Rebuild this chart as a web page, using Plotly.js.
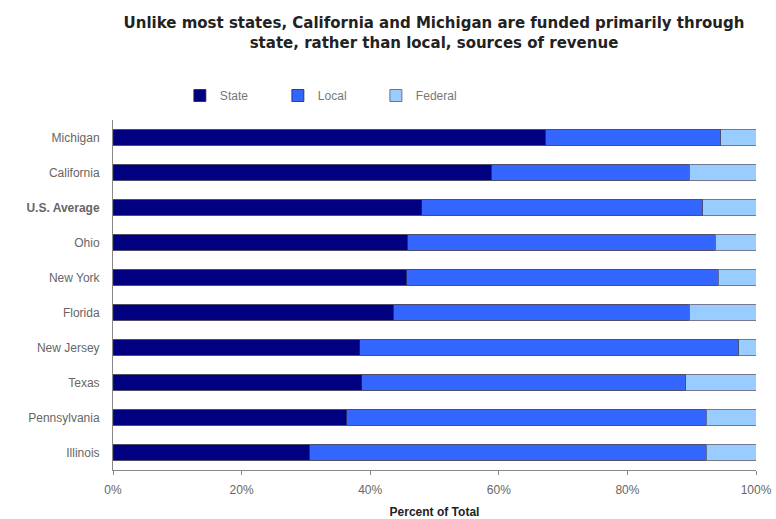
<!DOCTYPE html>
<html>
<head>
<meta charset="utf-8">
<script src="https://cdn.plot.ly/plotly-3.0.1.min.js"></script>
<style>html,body{margin:0;padding:0;background:#fff;}#chart{width:776px;height:519px;}</style>
</head>
<body>
<div id="chart"></div>
<script>
const states = ["Michigan","California","U.S. Average","Ohio","New York","Florida","New Jersey","Texas","Pennsylvania","Illinois"];
const stateShare = [67.2, 58.8, 48.0, 45.8, 45.6, 43.6, 38.4, 38.7, 36.3, 30.5];
const localShare = [27.3, 30.8, 43.7, 47.9, 48.5, 46.0, 58.9, 50.4, 56.0, 61.8];
const federalShare = [5.5, 10.4, 8.3, 6.3, 5.9, 10.4, 2.7, 10.9, 7.7, 7.7];
const tickLabels = ["Michigan","California","<b>U.S. Average</b>","Ohio","New York","Florida","New Jersey","Texas","Pennsylvania","Illinois"];
const xTickVals = [0,20,40,60,80,100];
const xTickText = ["0%","20%","40%","60%","80%","100%"];

const common = {type:'bar', orientation:'h', y: states, width:0.45};
const traces = [
  Object.assign({}, common, {name:'State', x: stateShare, marker:{color:'#000080', line:{color:'#222244', width:0.8}}}),
  Object.assign({}, common, {name:'Local', x: localShare, marker:{color:'#3366ff', line:{color:'#222244', width:0.8}}}),
  Object.assign({}, common, {name:'Federal', x: federalShare, marker:{color:'#99ccff', line:{color:'#555577', width:0.8}}})
];

const layout = {
  width:776, height:519,
  margin:{l:113, r:20, t:120, b:49},
  barmode:'stack',
  paper_bgcolor:'#fff', plot_bgcolor:'#fff',
  font:{family:'Liberation Sans, Arial, sans-serif', size:12, color:'#666'},
  title:{text:'<b>Unlike most states, California and Michigan are funded primarily through<br>state, rather than local, sources of revenue</b>',
         font:{family:'DejaVu Sans, Verdana, sans-serif', size:15, color:'#222'},
         x:434/776, xanchor:'center', xref:'container', yref:'container', y:1-28/519, yanchor:'middle'},
  showlegend:true,
  legend:{orientation:'h', x:0.104, xanchor:'left', y:1.07, yanchor:'middle', font:{size:12, color:'#777'},
          traceorder:'normal', entrywidth:53, entrywidthmode:'pixels'},
  xaxis:{range:[0,100], tickvals:xTickVals, ticktext:xTickText, showgrid:false, zeroline:false,
         showline:true, linecolor:'#888', linewidth:1, ticks:'outside', tickcolor:'#888', ticklen:4,
         ticklabelstandoff:5,
         tickfont:{size:12, color:'#666'},
         title:{text:'<b>Percent of Total</b>', font:{size:12, color:'#222'}, standoff:14}},
  yaxis:{type:'category', categoryorder:'array', categoryarray:states, autorange:'reversed',
         tickvals:states, ticktext:tickLabels, showgrid:false, zeroline:false,
         showline:true, linecolor:'#888', linewidth:1, ticks:'', ticklabelstandoff:10,
         tickfont:{size:12, color:'#666'}}
};
Plotly.newPlot('chart', traces, layout, {displayModeBar:false, staticPlot:true});
</script>
</body>
</html>
